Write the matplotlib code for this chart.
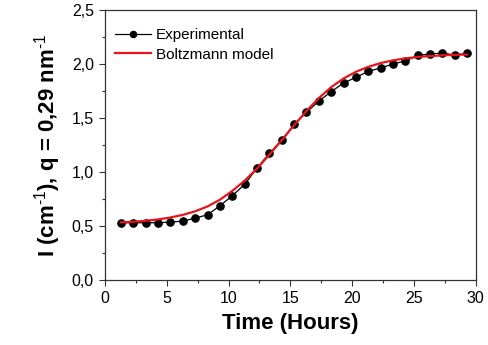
import numpy as np
import matplotlib
matplotlib.use('Agg')
import matplotlib.pyplot as plt
from matplotlib.ticker import MultipleLocator, FuncFormatter

plt.rcParams['font.family'] = ['Liberation Sans', 'DejaVu Sans']
plt.rcParams['mathtext.fontset'] = 'custom'
plt.rcParams['mathtext.rm'] = 'Liberation Sans'
plt.rcParams['mathtext.bf'] = 'Liberation Sans:bold'

# measured points (time in hours, intensity)
time_h = [1.3, 2.3, 3.3, 4.3, 5.3, 6.3, 7.3, 8.3, 9.3, 10.3,
          11.3, 12.3, 13.3, 14.3, 15.3, 16.3, 17.3, 18.3, 19.3, 20.3,
          21.3, 22.3, 23.3, 24.3, 25.3, 26.3, 27.3, 28.3, 29.3]
intensity = [0.531, 0.531, 0.531, 0.531, 0.537, 0.546, 0.574, 0.605, 0.688, 0.781,
             0.886, 1.037, 1.173, 1.296, 1.441, 1.552, 1.657, 1.744, 1.824, 1.877,
             1.932, 1.963, 2.000, 2.028, 2.080, 2.093, 2.102, 2.083, 2.099]

# Boltzmann model curve at the same times
model = [0.535, 0.541, 0.549, 0.562, 0.580, 0.604, 0.637, 0.682, 0.744, 0.826,
         0.920, 1.032, 1.160, 1.295, 1.433, 1.565, 1.684, 1.786, 1.866, 1.928,
         1.974, 2.009, 2.034, 2.052, 2.065, 2.074, 2.080, 2.085, 2.088]

fig = plt.figure(figsize=(4.88, 3.45), dpi=100)
ax = fig.add_axes([0.215, 0.188, 0.76, 0.783])

ax.plot(time_h, intensity, color='black', lw=0.9, marker='o', ms=5.2,
        label='Experimental', zorder=2)
ax.plot(time_h, model, color='#e8141b', lw=1.6, label='Boltzmann model', zorder=3)

ax.set_xlim(0, 30)
ax.set_ylim(0, 2.5)
ax.xaxis.set_major_locator(MultipleLocator(5))
ax.xaxis.set_minor_locator(MultipleLocator(2.5))
ax.yaxis.set_major_locator(MultipleLocator(0.5))
ax.yaxis.set_minor_locator(MultipleLocator(0.25))
ax.yaxis.set_major_formatter(FuncFormatter(lambda v, p: ('%.1f' % v).replace('.', ',')))

ax.tick_params(which='major', direction='out', length=4.5, width=0.8,
               labelsize=11.5, color='#333333', top=False, right=False)
ax.tick_params(which='minor', direction='out', length=2.5, width=0.8,
               color='#333333', top=False, right=False)
for s in ax.spines.values():
    s.set_color('#333333')
    s.set_linewidth(0.9)

ax.set_xlabel('Time (Hours)', fontsize=16, fontweight='bold', labelpad=5)
ax.set_ylabel(r'I (cm$^{\text{-1}}$), q = 0,29 nm$^{\text{-1}}$', fontsize=16,
              fontweight='bold', labelpad=6)

leg = ax.legend(loc='upper left', frameon=False, fontsize=11, handlelength=2.4,
                handletextpad=0.3, labelspacing=0.35, borderaxespad=0.0,
                bbox_to_anchor=(0.01, 0.955), markerscale=0.85)

fig.savefig('out.png', dpi=100)
